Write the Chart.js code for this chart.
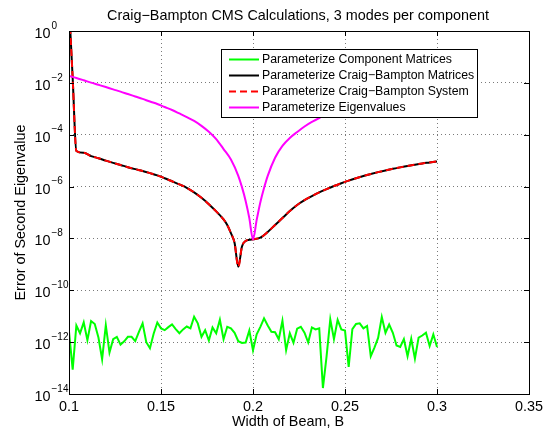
<!DOCTYPE html>
<html>
<head>
<meta charset="utf-8">
<title>Craig-Bampton CMS</title>
<script src="https://cdn.jsdelivr.net/npm/chart.js@4/dist/chart.umd.min.js"></script>
<style>
  body { margin: 0; background: #fff; }
  #wrap { width: 555px; height: 433px; }
</style>
</head>
<body>
<div id="wrap"><canvas id="cms" width="555" height="433"></canvas></div>
<script>
// Error of the second eigenvalue vs. beam width B
const xTicks = [0.1, 0.15, 0.2, 0.25, 0.3, 0.35];
const xTickLabels = ['0.1', '0.15', '0.2', '0.25', '0.3', '0.35'];
const yTicks = [1, 1e-2, 1e-4, 1e-6, 1e-8, 1e-10, 1e-12, 1e-14];
const yTickExps = ['0', '\u22122', '\u22124', '\u22126', '\u22128', '\u221210', '\u221212', '\u221214'];

// component-matrix parameterization, sampled every 0.002
const compX = Array.from({ length: 101 }, (_, i) => +(0.1 + 0.002 * i).toFixed(3));
const compErr = [
  2.53e-12, 8.7e-14, 4.4e-12, 2.2e-12, 5.8e-12, 1.2e-12, 6.5e-12, 5.0e-12, 1.5e-12, 2.2e-13,
  4.5e-12, 4.0e-13, 1.3e-12, 1.6e-12, 8.0e-13, 1.08e-12, 1.6e-12, 1.6e-12, 1.1e-12, 2.5e-12,
  5.3e-12, 1.0e-12, 5.8e-13, 2.1e-12, 5.7e-12, 3.4e-12, 2.9e-12, 3.8e-12, 4.8e-12, 3.2e-12,
  2.2e-12, 3.1e-12, 4.0e-12, 3.4e-12, 9.6e-12, 5.3e-12, 1.6e-12, 2.9e-12, 1.16e-12, 3.7e-12,
  2.2e-12, 7.3e-12, 1.3e-12, 3.9e-12, 3.4e-12, 2.3e-12, 1.09e-12, 9.3e-13, 9.7e-13, 2.8e-12,
  4.8e-13, 2.0e-12, 3.9e-12, 8.3e-12, 4.4e-12, 2.5e-12, 2.4e-12, 1.3e-12, 6.7e-12, 4.9e-13,
  2.2e-12, 9.5e-13, 3.3e-12, 3.9e-12, 2.3e-12, 9.7e-13, 3.7e-12, 3.1e-12, 3.4e-12, 1.7e-14,
  2.9e-13, 7.6e-12, 1.3e-12, 7.2e-12, 3.1e-12, 2.8e-12, 1.1e-13, 3.2e-12, 5.0e-12, 5.3e-12,
  3.4e-12, 4.2e-12, 2.9e-13, 6.2e-13, 1.45e-12, 9.3e-12, 2.3e-12, 4.8e-12, 2.3e-12, 7.4e-13,
  6.5e-13, 1.3e-12, 2.85e-13, 1.35e-12, 2.3e-13, 1.5e-12, 1.8e-12, 2.3e-12, 7.1e-13, 2.0e-12,
  6.5e-13
];

// Craig-Bampton matrices / system (the two curves coincide)
const cbX = [
  0.100, 0.102, 0.104, 0.108, 0.112, 0.116, 0.120, 0.124, 0.128, 0.132,
  0.136, 0.140, 0.144, 0.148, 0.152, 0.156, 0.160, 0.164, 0.168, 0.172,
  0.176, 0.180, 0.184, 0.186, 0.188, 0.190, 0.192, 0.194, 0.196, 0.198,
  0.200, 0.204, 0.208, 0.212, 0.216, 0.220, 0.224, 0.228, 0.232, 0.236,
  0.240, 0.244, 0.248, 0.252, 0.256, 0.260, 0.264, 0.268, 0.272, 0.276,
  0.280, 0.284, 0.288, 0.292, 0.296, 0.300
];
const cbMatrixErr = [
  10, 1.5e-2, 2.35e-5, 2.0e-5, 1.5e-5, 1.24e-5, 1.0e-5, 8.2e-6, 6.8e-6, 5.6e-6,
  4.7e-6, 4.0e-6, 3.3e-6, 2.7e-6, 2.1e-6, 1.6e-6, 1.22e-6, 9.0e-7, 6.0e-7, 3.7e-7,
  2.1e-7, 1.1e-7, 5.4e-8, 3.3e-8, 1.6e-8, 6.7e-9, 8.0e-10, 4.9e-9, 8.0e-9, 8.9e-9,
  9.3e-9, 1.07e-8, 1.78e-8, 3.3e-8, 6.1e-8, 1.14e-7, 1.95e-7, 3.0e-7, 4.3e-7, 6.0e-7,
  8.0e-7, 1.05e-6, 1.35e-6, 1.7e-6, 2.1e-6, 2.56e-6, 3.05e-6, 3.6e-6, 4.2e-6, 4.85e-6,
  5.5e-6, 6.2e-6, 7.0e-6, 7.8e-6, 8.5e-6, 9.3e-6
];
const cbSystemErr = [
  10, 1.5e-2, 2.35e-5, 2.0e-5, 1.5e-5, 1.24e-5, 1.0e-5, 8.2e-6, 6.8e-6, 5.6e-6,
  4.7e-6, 4.0e-6, 3.3e-6, 2.7e-6, 2.1e-6, 1.6e-6, 1.22e-6, 9.0e-7, 6.0e-7, 3.7e-7,
  2.1e-7, 1.1e-7, 5.4e-8, 3.3e-8, 1.6e-8, 6.7e-9, 8.0e-10, 4.9e-9, 8.0e-9, 8.9e-9,
  9.3e-9, 1.07e-8, 1.78e-8, 3.3e-8, 6.1e-8, 1.14e-7, 1.95e-7, 3.0e-7, 4.3e-7, 6.0e-7,
  8.0e-7, 1.05e-6, 1.35e-6, 1.7e-6, 2.1e-6, 2.56e-6, 3.05e-6, 3.6e-6, 4.2e-6, 4.85e-6,
  5.5e-6, 6.2e-6, 7.0e-6, 7.8e-6, 8.5e-6, 9.3e-6
];

// eigenvalue parameterization
const eigX = [
  0.100, 0.104, 0.108, 0.112, 0.116, 0.120, 0.124, 0.128, 0.132, 0.136,
  0.140, 0.144, 0.148, 0.152, 0.156, 0.160, 0.164, 0.168, 0.172, 0.176,
  0.180, 0.184, 0.188, 0.192, 0.194, 0.196, 0.198, 0.200, 0.202, 0.204,
  0.206, 0.208, 0.212, 0.216, 0.220, 0.224, 0.228, 0.232, 0.236, 0.240,
  0.244, 0.248, 0.252, 0.256, 0.260, 0.264, 0.268, 0.272, 0.276, 0.280,
  0.284, 0.288, 0.292, 0.296, 0.300
];
const eigErr = [
  1.84e-2, 1.54e-2, 1.26e-2, 1.02e-2, 8.4e-3, 6.9e-3, 5.6e-3, 4.6e-3, 3.7e-3, 2.98e-3,
  2.4e-3, 1.9e-3, 1.53e-3, 1.17e-3, 9.0e-4, 6.6e-4, 4.8e-4, 3.4e-4, 2.2e-4, 1.3e-4,
  6.8e-5, 2.8e-5, 1.1e-5, 2.6e-6, 9.5e-7, 2.8e-7, 6.1e-8, 9.1e-9, 5.2e-8, 2.5e-7,
  8.8e-7, 2.6e-6, 1.3e-5, 3.7e-5, 7.5e-5, 1.27e-4, 2.07e-4, 3.1e-4, 4.4e-4, 6.6e-4,
  9.0e-4, 1.17e-3, 1.53e-3, 1.9e-3, 2.4e-3, 2.98e-3, 3.7e-3, 4.6e-3, 5.6e-3, 6.9e-3,
  8.4e-3, 1.02e-2, 1.26e-2, 1.54e-2, 1.84e-2
];

const FONT = '"Liberation Sans", Arial, Helvetica, sans-serif';
const GRID = '#7a7a7a';

function toPoints(xs, ys) {
  return xs.map((x, i) => ({ x: x, y: ys[i] }));
}

// MATLAB-style frame: box, inward ticks, labels, titles and legend
const matlabFrame = {
  id: 'matlabFrame',
  afterDraw(chart) {
    const { ctx, chartArea: a } = chart;
    const xs = chart.scales.x, ys = chart.scales.y;
    ctx.save();

    ctx.strokeStyle = '#000';
    ctx.lineWidth = 1;
    ctx.beginPath();
    xTicks.forEach(v => {
      const px = Math.round(xs.getPixelForValue(v)) + 0.5;
      ctx.moveTo(px, a.bottom); ctx.lineTo(px, a.bottom - 5);
      ctx.moveTo(px, a.top); ctx.lineTo(px, a.top + 5);
    });
    yTicks.forEach(v => {
      const py = Math.round(ys.getPixelForValue(v)) + 0.5;
      ctx.moveTo(a.left, py); ctx.lineTo(a.left + 5, py);
      ctx.moveTo(a.right, py); ctx.lineTo(a.right - 5, py);
    });
    ctx.stroke();
    ctx.strokeRect(a.left + 0.5, a.top + 0.5, a.right - a.left, a.bottom - a.top);

    ctx.fillStyle = '#000';
    ctx.font = '14.4px ' + FONT;
    ctx.textAlign = 'center';
    ctx.textBaseline = 'middle';
    xTicks.forEach((v, i) => {
      ctx.fillText(xTickLabels[i], xs.getPixelForValue(v), a.bottom + 13);
    });

    yTicks.forEach((v, i) => {
      const py = ys.getPixelForValue(v);
      ctx.font = '14.4px ' + FONT;
      ctx.textAlign = 'right';
      ctx.fillText('10', a.left - 18.5, py + 3);
      ctx.font = '10px ' + FONT;
      ctx.textAlign = 'left';
      ctx.fillText(yTickExps[i], a.left - 17.5, py - 5);
    });

    ctx.font = '14.4px ' + FONT;
    ctx.textAlign = 'center';
    ctx.fillText('Craig\u2212Bampton CMS Calculations, 3 modes per component', 298, 16);
    ctx.fillText('Width of Beam, B', 288, a.bottom + 28);
    ctx.save();
    ctx.translate(21, (a.top + a.bottom) / 2);
    ctx.rotate(-Math.PI / 2);
    ctx.fillText('Error of Second Eigenvalue', 0, 0);
    ctx.restore();

    // legend box
    const lx = 221, ly = 49, lw = 256, lh = 68;
    ctx.fillStyle = '#fff';
    ctx.fillRect(lx, ly, lw, lh);
    ctx.strokeStyle = '#000';
    ctx.strokeRect(lx + 0.5, ly + 0.5, lw, lh);
    ctx.font = '12.3px ' + FONT;
    ctx.textAlign = 'left';
    chart.data.datasets.forEach((ds, i) => {
      const ry = ly + 10.5 + i * 16;
      ctx.strokeStyle = ds.borderColor;
      ctx.lineWidth = 2;
      ctx.setLineDash(ds.borderDash || []);
      ctx.beginPath();
      ctx.moveTo(lx + 8, ry);
      ctx.lineTo(lx + 38, ry);
      ctx.stroke();
      ctx.setLineDash([]);
      ctx.fillStyle = '#000';
      ctx.fillText(ds.label, lx + 41, ry);
    });
    ctx.restore();
  }
};

new Chart(document.getElementById('cms'), {
  type: 'line',
  data: {
    datasets: [
      {
        label: 'Parameterize Component Matrices',
        data: toPoints(compX, compErr),
        borderColor: '#00ff00',
        order: 4
      },
      {
        label: 'Parameterize Craig\u2212Bampton Matrices',
        data: toPoints(cbX, cbMatrixErr),
        borderColor: '#000000',
        cubicInterpolationMode: 'monotone',
        order: 3
      },
      {
        label: 'Parameterize Craig\u2212Bampton System',
        data: toPoints(cbX, cbSystemErr),
        borderColor: '#ff0000',
        borderDash: [7, 4],
        cubicInterpolationMode: 'monotone',
        order: 2
      },
      {
        label: 'Parameterize Eigenvalues',
        data: toPoints(eigX, eigErr),
        borderColor: '#ff00ff',
        cubicInterpolationMode: 'monotone',
        order: 1
      }
    ]
  },
  options: {
    responsive: false,
    animation: false,
    events: [],
    elements: {
      line: { borderWidth: 2, tension: 0, fill: false },
      point: { radius: 0 }
    },
    layout: { padding: { left: 69, right: 26, top: 31, bottom: 39 } },
    plugins: {
      legend: { display: false },
      tooltip: { enabled: false }
    },
    scales: {
      x: {
        type: 'linear',
        min: 0.1,
        max: 0.35,
        afterBuildTicks: s => { s.ticks = xTicks.map(v => ({ value: v })); },
        afterFit: s => { s.height = 0; },
        ticks: { display: false },
        grid: { color: GRID, drawTicks: false, lineWidth: 1 },
        border: { display: false, dash: [1, 3] }
      },
      y: {
        type: 'logarithmic',
        min: 1e-14,
        max: 1,
        afterBuildTicks: s => { s.ticks = yTicks.map(v => ({ value: v })); },
        afterFit: s => { s.width = 0; },
        ticks: { display: false },
        grid: { color: GRID, drawTicks: false, lineWidth: 1 },
        border: { display: false, dash: [1, 3] }
      }
    }
  },
  plugins: [matlabFrame]
});
</script>
</body>
</html>
